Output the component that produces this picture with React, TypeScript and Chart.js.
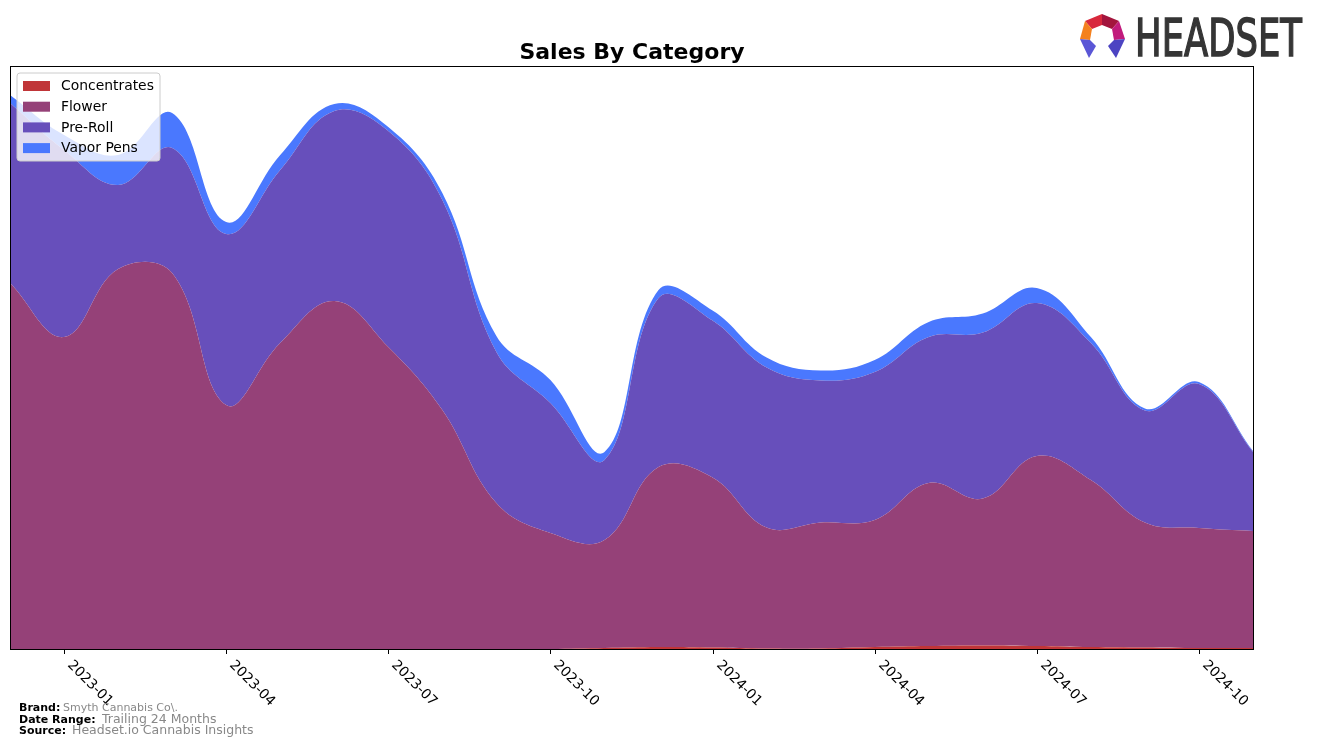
import React, { useEffect, useRef } from "react";
import { Chart, registerables } from "chart.js";

Chart.register(...registerables);

const months = [
  "2022-12", "2023-01", "2023-02", "2023-03", "2023-04", "2023-05", "2023-06", "2023-07",
  "2023-08", "2023-09", "2023-10", "2023-11", "2023-12", "2024-01", "2024-02", "2024-03",
  "2024-04", "2024-05", "2024-06", "2024-07", "2024-08", "2024-09", "2024-10", "2024-11",
];
const tickLabels = ["2023-01", "2023-04", "2023-07", "2023-10", "2024-01", "2024-04", "2024-07", "2024-10"];

const concentrates = [0, 0, 0, 0, 0, 0, 0, 0, 0, 0, 0, 1, 2, 1.5, 0.5, 0.5, 2, 3, 3.5, 3, 2, 1.5, 1, 1];
const flower = [366, 312, 380, 376, 244, 306, 348, 302, 239, 146, 116, 108, 180, 170, 121, 126, 127, 163, 147, 190, 167, 125, 120, 117];
const preRoll = [180, 187, 84, 125, 171, 173, 190, 216, 210, 151, 130, 80, 169, 157, 160, 142, 148, 146, 166, 153, 137, 112, 144, 79];
const vaporPens = [8, 15, 30, 35, 12, 15, 7, 4, 7, 16, 23, 8, 8, 10, 10, 10, 12, 15, 19, 15, 6, 2, 2, 1];

const seriesNames = ["Concentrates", "Flower", "Pre-Roll", "Vapor Pens"];
const seriesColors = ["#c03538", "#954178", "#674fbb", "#4a78fe"];

const FONT = "'DejaVu Sans', sans-serif";

const overlayPlugin = {
  id: "overlay",
  afterDraw(chart: any) {
    const ctx = chart.ctx as CanvasRenderingContext2D;
    const area = chart.chartArea;
    const xs = chart.scales.x;
    ctx.save();

    // frame
    ctx.strokeStyle = "#000";
    ctx.lineWidth = 1;
    ctx.strokeRect(Math.round(area.left) + 0.5, Math.round(area.top) + 0.5, Math.round(area.right - area.left), Math.round(area.bottom - area.top));

    // ticks and labels
    ctx.fillStyle = "#000";
    ctx.font = `13.9px ${FONT}`;
    tickLabels.forEach((lab) => {
      const idx = months.indexOf(lab);
      const x = Math.round(xs.getPixelForValue(idx)) + 0.5;
      ctx.beginPath();
      ctx.moveTo(x, area.bottom);
      ctx.lineTo(x, area.bottom + 5);
      ctx.stroke();
      ctx.save();
      ctx.translate(x + 10, area.bottom + 9);
      ctx.rotate(Math.PI / 4);
      ctx.textAlign = "left";
      ctx.textBaseline = "top";
      ctx.fillText(lab, 0, 0);
      ctx.restore();
    });

    // title
    ctx.font = `bold 22px ${FONT}`;
    ctx.textAlign = "center";
    ctx.textBaseline = "alphabetic";
    ctx.fillText("Sales By Category", 632, 59);

    // legend
    const lx = 17, ly = 73, lw = 143, lh = 88, r = 3;
    ctx.beginPath();
    ctx.moveTo(lx + r, ly);
    ctx.lineTo(lx + lw - r, ly);
    ctx.quadraticCurveTo(lx + lw, ly, lx + lw, ly + r);
    ctx.lineTo(lx + lw, ly + lh - r);
    ctx.quadraticCurveTo(lx + lw, ly + lh, lx + lw - r, ly + lh);
    ctx.lineTo(lx + r, ly + lh);
    ctx.quadraticCurveTo(lx, ly + lh, lx, ly + lh - r);
    ctx.lineTo(lx, ly + r);
    ctx.quadraticCurveTo(lx, ly, lx + r, ly);
    ctx.closePath();
    ctx.fillStyle = "rgba(255,255,255,0.8)";
    ctx.fill();
    ctx.strokeStyle = "#cccccc";
    ctx.stroke();
    ctx.font = `13.9px ${FONT}`;
    ctx.textAlign = "left";
    ctx.textBaseline = "middle";
    seriesNames.forEach((name, i) => {
      const cy = 86 + i * 20.7;
      ctx.fillStyle = seriesColors[i];
      ctx.fillRect(23, cy - 5, 27, 10);
      ctx.fillStyle = "#000";
      ctx.fillText(name, 61, cy + 0.5);
    });

    // footer
    ctx.textBaseline = "alphabetic";
    const footer = [
      { k: "Brand:", v: "Smyth Cannabis Co\\.", vx: 63, y: 711, vs: 11 },
      { k: "Date Range:", v: "Trailing 24 Months", vx: 102, y: 723, vs: 12.5 },
      { k: "Source:", v: "Headset.io Cannabis Insights", vx: 72, y: 734, vs: 12.5 },
    ];
    footer.forEach((f) => {
      ctx.font = `bold 11px ${FONT}`;
      ctx.fillStyle = "#000";
      ctx.fillText(f.k, 19, f.y);
      ctx.font = `${f.vs}px ${FONT}`;
      ctx.fillStyle = "#888888";
      ctx.fillText(f.v, f.vx, f.y);
    });

    // logo icon
    const P = [[1102, 14], [1119, 21], [1125, 39], [1116, 58], [1089, 58], [1080, 39], [1085, 21]];
    const Q = [[1102, 25], [1112, 29], [1114, 40], [1108, 46], [1096, 46], [1090, 40], [1092, 29]];
    const segs: [number[][], string][] = [
      [[P[6], P[0], Q[0], Q[6]], "#d8283c"],
      [[P[0], P[1], Q[1], Q[0]], "#a3153d"],
      [[P[1], P[2], Q[2], Q[1]], "#c11b7c"],
      [[P[2], P[3], Q[3], Q[2]], "#4c44c2"],
      [[P[5], P[6], Q[6], Q[5]], "#f4811f"],
      [[P[4], P[5], Q[5], Q[4]], "#5a56d6"],
    ];
    segs.forEach(([pts, col]) => {
      ctx.beginPath();
      ctx.moveTo(pts[0][0], pts[0][1]);
      for (let i = 1; i < pts.length; i++) ctx.lineTo(pts[i][0], pts[i][1]);
      ctx.closePath();
      ctx.fillStyle = col;
      ctx.fill();
    });
    // logo text
    ctx.font = `52px ${FONT}`;
    const w = ctx.measureText("HEADSET").width;
    ctx.save();
    ctx.translate(1135, 56);
    ctx.scale(167 / w, 1);
    ctx.fillStyle = "#353535";
    ctx.strokeStyle = "#353535";
    ctx.lineWidth = 1.6;
    ctx.textAlign = "left";
    ctx.fillText("HEADSET", 0, 0);
    ctx.strokeText("HEADSET", 0, 0);
    ctx.restore();

    ctx.restore();
  },
};

export default function App() {
  const ref = useRef<HTMLCanvasElement | null>(null);
  useEffect(() => {
    if (!ref.current) return;
    const values = [concentrates, flower, preRoll, vaporPens];
    const chart = new Chart(ref.current, {
      type: "line",
      data: {
        labels: months,
        datasets: values.map((d, i) => ({
          label: seriesNames[i],
          data: d,
          backgroundColor: seriesColors[i],
          borderColor: seriesColors[i],
          borderWidth: 0,
          pointRadius: 0,
          fill: i === 0 ? "origin" : "-1",
          tension: 0.4,
        })),
      },
      options: {
        animation: false,
        responsive: false,
        devicePixelRatio: 1,
        maintainAspectRatio: false,
        layout: { padding: { left: 10, right: 64, top: 66, bottom: 97 } },
        plugins: { legend: { display: false }, tooltip: { enabled: false }, title: { display: false } },
        scales: {
          x: { type: "category", display: false, offset: false },
          y: { display: false, stacked: true, min: 0, max: 583 },
        },
      },
      plugins: [overlayPlugin],
    });
    return () => chart.destroy();
  }, []);
  return (
    <div style={{ position: "fixed", left: 0, top: 0, width: 1317, height: 746, background: "#fff" }}>
      <canvas ref={ref} width={1317} height={746} style={{ display: "block" }} />
    </div>
  );
}
